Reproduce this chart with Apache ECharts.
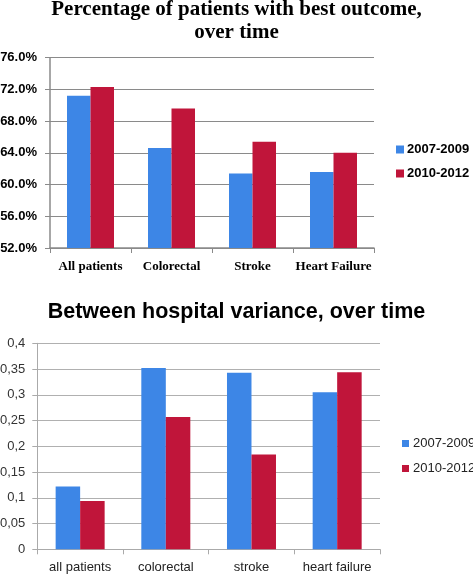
<!DOCTYPE html>
<html>
<head>
<meta charset="utf-8">
<script src="https://cdn.jsdelivr.net/npm/echarts@6/dist/echarts.min.js"></script>
<style>
html,body{margin:0;padding:0;background:#fff;}
#c{width:473px;height:574px;}
</style>
</head>
<body>
<div id="c"></div>
<script>
// Top chart data
var topCategories = ['All patients', 'Colorectal', 'Stroke', 'Heart Failure'];
var topSeriesNames = ['2007-2009', '2010-2012'];
var top2007 = [71.2, 64.6, 61.4, 61.6];
var top2010 = [72.3, 69.6, 65.4, 64.0];
var topTicks = [52, 56, 60, 64, 68, 72, 76];

// Bottom chart data
var botCategories = ['all patients', 'colorectal', 'stroke', 'heart failure'];
var bot2007 = [0.122, 0.352, 0.343, 0.305];
var bot2010 = [0.094, 0.257, 0.184, 0.344];
var botTicks = [0, 0.05, 0.1, 0.15, 0.2, 0.25, 0.3, 0.35, 0.4];

var BLUE = '#3d86e6';
var RED = '#c0153a';

var chart = echarts.init(document.getElementById('c'), null, {renderer: 'canvas'});
chart.setOption({
  animation: false,
  backgroundColor: '#fff',
  title: [
    {
      text: 'Percentage of patients with best outcome,\nover time',
      left: 'center', top: -7,
      textStyle: {fontFamily: 'Liberation Serif', fontWeight: 'bold', fontSize: 21, lineHeight: 23, color: '#000'}
    },
    {
      text: 'Between hospital variance, over time',
      left: 'center', top: 296,
      textStyle: {fontFamily: 'Liberation Sans', fontWeight: 'bold', fontSize: 21.5, color: '#000'}
    }
  ],
  legend: [
    {
      data: topSeriesNames.map(function(n){return {name: n + ' '};}),
      orient: 'vertical', left: 391, top: 138,
      itemWidth: 8, itemHeight: 8, itemGap: 11, icon: 'rect',
      textStyle: {fontFamily: 'Liberation Sans', fontWeight: 'bold', fontSize: 13, color: '#000', padding: [0,0,0,-2]}
    },
    {
      data: topSeriesNames,
      orient: 'vertical', left: 397, top: 432,
      itemWidth: 7, itemHeight: 7, itemGap: 12, icon: 'rect',
      textStyle: {fontFamily: 'Liberation Sans', fontSize: 13, color: '#222', padding: [0,0,0,-1]}
    }
  ],
  grid: [
    {left: 50, top: 57.7, width: 324, height: 190.3, containLabel: false, outerBoundsMode: 'none'},
    {left: 37.3, top: 343.3, width: 342.7, height: 206, containLabel: false, outerBoundsMode: 'none'}
  ],
  xAxis: [
    {
      type: 'category', gridIndex: 0, data: topCategories,
      axisLine: {lineStyle: {color: '#8a8a8a', width: 1.5}},
      axisTick: {show: true, length: 5, lineStyle: {color: '#8a8a8a'}},
      axisLabel: {fontFamily: 'Liberation Serif', fontWeight: 'bold', fontSize: 13, color: '#000', margin: 12, interval: 0}
    },
    {
      type: 'category', gridIndex: 1, data: botCategories,
      axisLine: {lineStyle: {color: '#aaaaaa', width: 1}},
      axisTick: {show: true, length: 5, lineStyle: {color: '#aaaaaa'}},
      axisLabel: {fontFamily: 'Liberation Sans', fontSize: 13, color: '#222', margin: 12, interval: 0}
    }
  ],
  yAxis: [
    {
      type: 'value', gridIndex: 0, min: topTicks[0], max: topTicks[topTicks.length-1], interval: 4,
      axisLine: {show: true, lineStyle: {color: '#8a8a8a', width: 1.5}},
      axisTick: {show: true, length: 5, lineStyle: {color: '#8a8a8a'}},
      splitLine: {show: true, lineStyle: {color: '#8a8a8a', width: 1}},
      axisLabel: {fontFamily: 'Liberation Sans', fontWeight: 'bold', fontSize: 13, color: '#000', margin: 13,
        formatter: function(v){return v.toFixed(1) + '%';}}
    },
    {
      type: 'value', gridIndex: 1, min: botTicks[0], max: botTicks[botTicks.length-1], interval: 0.05,
      axisLine: {show: true, lineStyle: {color: '#aaaaaa', width: 1}},
      axisTick: {show: true, length: 5, lineStyle: {color: '#aaaaaa'}},
      splitLine: {show: true, lineStyle: {color: '#b0b0b0', width: 1}},
      axisLabel: {fontFamily: 'Liberation Sans', fontSize: 13, color: '#333', margin: 12,
        formatter: function(v){return String(Math.round(v*100)/100).replace('.', ',');}}
    }
  ],
  series: [
    {name: topSeriesNames[0] + ' ', type: 'bar', xAxisIndex: 0, yAxisIndex: 0, data: top2007,
      barWidth: 23.5, barGap: '0%', itemStyle: {color: BLUE}},
    {name: topSeriesNames[1] + ' ', type: 'bar', xAxisIndex: 0, yAxisIndex: 0, data: top2010,
      barWidth: 23.5, barGap: '0%', itemStyle: {color: RED}},
    {name: topSeriesNames[0], type: 'bar', xAxisIndex: 1, yAxisIndex: 1, data: bot2007,
      barWidth: 24.5, barGap: '0%', itemStyle: {color: BLUE}},
    {name: topSeriesNames[1], type: 'bar', xAxisIndex: 1, yAxisIndex: 1, data: bot2010,
      barWidth: 24.5, barGap: '0%', itemStyle: {color: RED}}
  ]
});
</script>
</body>
</html>
